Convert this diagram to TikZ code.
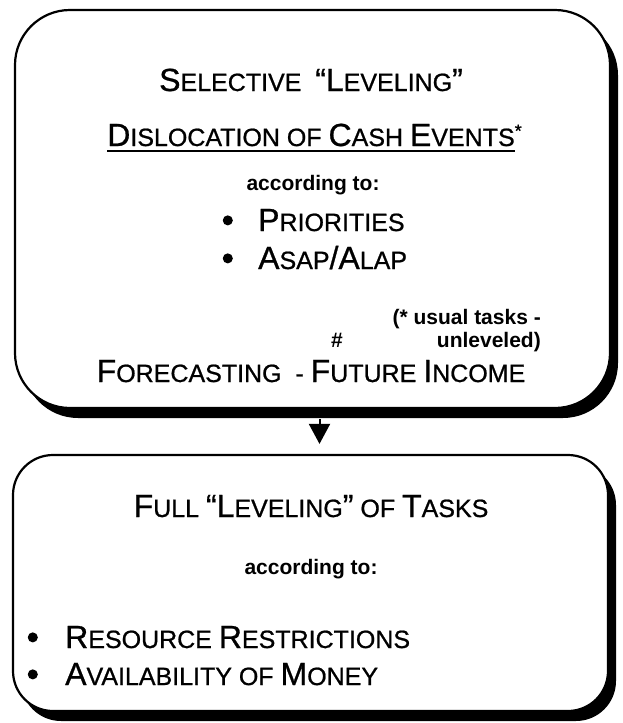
\documentclass[tikz,border=0pt]{standalone}
\usepackage{fontspec}
\setmainfont{Liberation Sans}
\newfontfamily\headfont{Liberation Sans}[FakeBold=0.8]
\newfontfamily\dotfont{Liberation Sans}[FakeBold=4]
\usetikzlibrary{shadows}
\usetikzlibrary{arrows.meta}
\pgfdeclarelayer{edgelayer}
\pgfdeclarelayer{nodelayer}
\pgfsetlayers{edgelayer,nodelayer,main}
\tikzstyle{big_box}=[rectangle,fill=white,draw=black,line width=2.2pt,minimum width=595pt,drop shadow={shadow xshift=8pt,shadow yshift=-10pt,fill=black,opacity=1}]
\tikzstyle{label_text}=[inner sep=0pt,anchor=base,font=\headfont\fontsize{25}{30}\selectfont]
\tikzstyle{flow}=[-{Triangle[width=21pt,length=20pt]},line width=2pt,draw=black]
\newcommand{\bigsz}[1]{{\fontsize{32}{36}\selectfont #1}}
\newcommand{\smallsz}[1]{{\fontsize{25}{30}\selectfont #1}}
\newcommand{\capword}[2]{\bigsz{#1}\smallsz{#2}}
\newcommand{\dotmark}{{\dotfont\fontsize{32}{36}\selectfont •}}
\newcommand{\notesz}{\normalfont\fontsize{21}{24}\selectfont\bfseries}

\begin{document}
\begin{tikzpicture}[x=1pt,y=-1pt]
	\useasboundingbox (0,0) rectangle (622,723);
	\begin{pgfonlayer}{nodelayer}
		\node [style={big_box}, rounded corners=55pt, minimum height=398pt] (0) at (312.5, 209) {};
		\node [style={big_box}, rounded corners=40pt, minimum height=256pt] (1) at (310.5, 583) {};
		\node [style={label_text}] (2) at (311, 91) {\capword{S}{ELECTIVE}\ \ \bigsz{“}\capword{L}{EVELING}\bigsz{”}};
		\node [style={label_text}] (3) at (311, 146) {\capword{D}{ISLOCATION} OF \capword{C}{ASH} \capword{E}{VENTS}\rlap{\raisebox{9pt}{\fontsize{18}{20}\selectfont *}}};
		\node [style={label_text}] (4) at (313, 190) {\notesz according to:};
		\node [style={label_text}, anchor=base west] (5) at (222, 231) {\makebox[36pt][l]{\dotmark}\capword{P}{RIORITIES}};
		\node [style={label_text}, anchor=base west] (6) at (222, 269) {\makebox[36pt][l]{\dotmark}\capword{A}{SAP}\bigsz{/}\capword{A}{LAP}};
		\node [style={label_text}, anchor=base east] (7) at (541, 324) {\notesz (* usual tasks -};
		\node [style={label_text}, anchor=base east] (8) at (541, 347) {\notesz unleveled)};
		\node [style={label_text}] (9) at (337, 347) {\notesz \#};
		\node [style={label_text}] (10) at (311, 382) {\capword{F}{ORECASTING}\ \ - \capword{F}{UTURE} \capword{I}{NCOME}};
		\node [style={label_text}] (11) at (311, 517) {\capword{F}{ULL} \bigsz{“}\capword{L}{EVELING}\bigsz{”} OF \capword{T}{ASKS}};
		\node [style={label_text}] (12) at (311, 574) {\notesz according to:};
		\node [style={label_text}, anchor=base west] (13) at (27, 648) {\makebox[38pt][l]{\dotmark}\capword{R}{ESOURCE} \capword{R}{ESTRICTIONS}};
		\node [style={label_text}, anchor=base west] (14) at (27, 685) {\makebox[38pt][l]{\dotmark}\capword{A}{VAILABILITY} OF \capword{M}{ONEY}};
	\end{pgfonlayer}
	\begin{pgfonlayer}{edgelayer}
		\draw [style=flow, shorten <=10pt, shorten >=10pt] ([xshift=7pt]0.south) to ([xshift=9pt]1.north);
	\end{pgfonlayer}
	\draw [line width=2.5pt] ([yshift=-5pt]3.base west) to ([yshift=-5pt]3.base east);
\end{tikzpicture}
\end{document}
